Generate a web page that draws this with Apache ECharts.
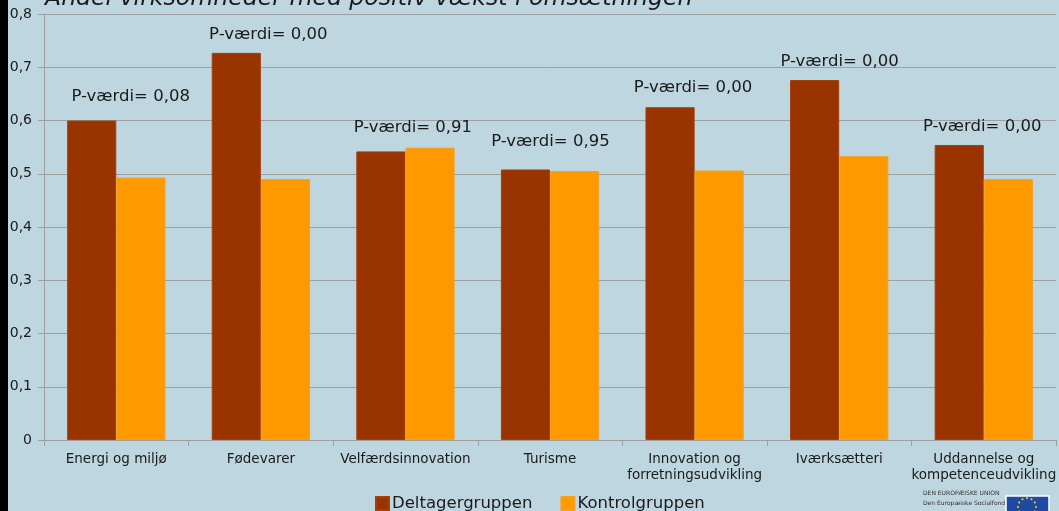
<!DOCTYPE html>
<html>
<head>
<meta charset="utf-8">
<script src="https://cdn.jsdelivr.net/npm/echarts@6/dist/echarts.min.js"></script>
<style>
html,body{margin:0;padding:0;background:#bed6df;}
#c{width:1059px;height:511px;}
</style>
</head>
<body>
<div id="c"></div>
<script>
// ---- data ----
var categories = ['Energi og miljø', 'Fødevarer', 'Velfærdsinnovation', 'Turisme',
  'Innovation og\nforretningsudvikling', 'Iværksætteri', 'Uddannelse og\nkompetenceudvikling'];
var deltagergruppen = [0.600, 0.727, 0.542, 0.508, 0.625, 0.676, 0.554];
var kontrolgruppen = [0.493, 0.490, 0.549, 0.505, 0.506, 0.533, 0.490];
var pValues = ['0,08', '0,00', '0,91', '0,95', '0,00', '0,00', '0,00'];
var yTicks = [0, 0.1, 0.2, 0.3, 0.4, 0.5, 0.6, 0.7, 0.8];
var titleText = 'Andel virksomheder med positiv vækst i omsætningen';

// ---- layout tweaks for annotation labels (pixels, relative to dark bar top) ----
var labelDx = [39, 32, 32, 25, 23, 25, 23];
var labelDy = [-15, -10, -15, -19, -11, -10, -10];

var FONT = 'DejaVu Sans';
var TXT = '#1a1a1a';

var chart = echarts.init(document.getElementById('c'), null, {renderer: 'canvas'});

var darkData = deltagergruppen.map(function (v, i) {
  return {
    value: v,
    label: {
      show: true,
      position: 'top',
      distance: 0,
      offset: [labelDx[i], labelDy[i]],
      formatter: 'P-værdi= ' + pValues[i]
    }
  };
});

// EU flag stars
var stars = [];
for (var k = 0; k < 12; k++) {
  var a = k / 12 * Math.PI * 2;
  stars.push({
    type: 'circle',
    shape: {cx: 1027 + 9 * Math.cos(a), cy: 507 + 9 * Math.sin(a), r: 1},
    style: {fill: '#ffdd00'},
    z: 101
  });
}

var option = {
  backgroundColor: '#bed6df',
  animation: false,
  textStyle: {fontFamily: FONT},
  grid: {left: 44, right: 0, top: 14, bottom: 71, containLabel: false},
  legend: {
    left: 370,
    top: 490,
    itemWidth: 13,
    itemHeight: 13,
    itemGap: 28,
    icon: 'rect',
    textStyle: {fontFamily: FONT, fontSize: 16.5, color: TXT, padding: [0, 0, 0, -2]},
    data: ['Deltagergruppen', 'Kontrolgruppen']
  },
  xAxis: {
    type: 'category',
    data: categories,
    axisLine: {lineStyle: {color: '#9f9f9f', width: 1}},
    axisTick: {show: true, length: 6, lineStyle: {color: '#9f9f9f'}},
    axisLabel: {
      interval: 0,
      margin: 11,
      color: TXT,
      fontFamily: FONT,
      fontSize: 13.5,
      lineHeight: 16
    }
  },
  yAxis: {
    type: 'value',
    min: 0,
    max: 0.8,
    interval: 0.1,
    axisLine: {show: true, lineStyle: {color: '#9f9f9f', width: 1}},
    axisTick: {show: true, length: 6, lineStyle: {color: '#9f9f9f'}},
    splitLine: {show: true, lineStyle: {color: '#9f9f9f', width: 1}},
    axisLabel: {
      margin: 12,
      color: TXT,
      fontFamily: FONT,
      fontSize: 14,
      customValues: yTicks,
      formatter: function (v) {
        return v === 0 ? '0' : v.toFixed(1).replace('.', ',');
      }
    }
  },
  series: [
    {
      name: 'Deltagergruppen',
      type: 'bar',
      data: darkData,
      barGap: '0%',
      barCategoryGap: '32%',
      itemStyle: {color: '#993300', borderColor: '#a5400e', borderWidth: 1},
      label: {color: TXT, fontFamily: FONT, fontSize: 16.5}
    },
    {
      name: 'Kontrolgruppen',
      type: 'bar',
      data: kontrolgruppen,
      barGap: '0%',
      barCategoryGap: '32%',
      itemStyle: {color: '#ff9900', borderColor: '#f5a020', borderWidth: 1}
    }
  ],
  graphic: [
    {
      type: 'text',
      left: 45,
      top: -13,
      style: {
        text: titleText,
        font: 'italic 23.6px "DejaVu Sans"',
        fill: TXT
      },
      z: 100
    },
    {
      type: 'rect',
      shape: {x: 0, y: 0, width: 8, height: 511},
      style: {fill: '#000000'},
      z: 100
    },
    {
      type: 'text',
      x: 923, y: 490,
      style: {text: 'DEN EUROPÆISKE UNION', font: '6px "DejaVu Sans"', fill: '#333'},
      z: 100
    },
    {
      type: 'text',
      x: 923, y: 500,
      style: {text: 'Den Europæiske Socialfond', font: '6px "DejaVu Sans"', fill: '#333'},
      z: 100
    },
    {
      type: 'rect',
      shape: {x: 1006, y: 496, width: 43, height: 20},
      style: {fill: '#1f4aa3', stroke: '#ffffff', lineWidth: 1.5},
      z: 100
    }
  ].concat(stars)
};

chart.setOption(option);
</script>
</body>
</html>
